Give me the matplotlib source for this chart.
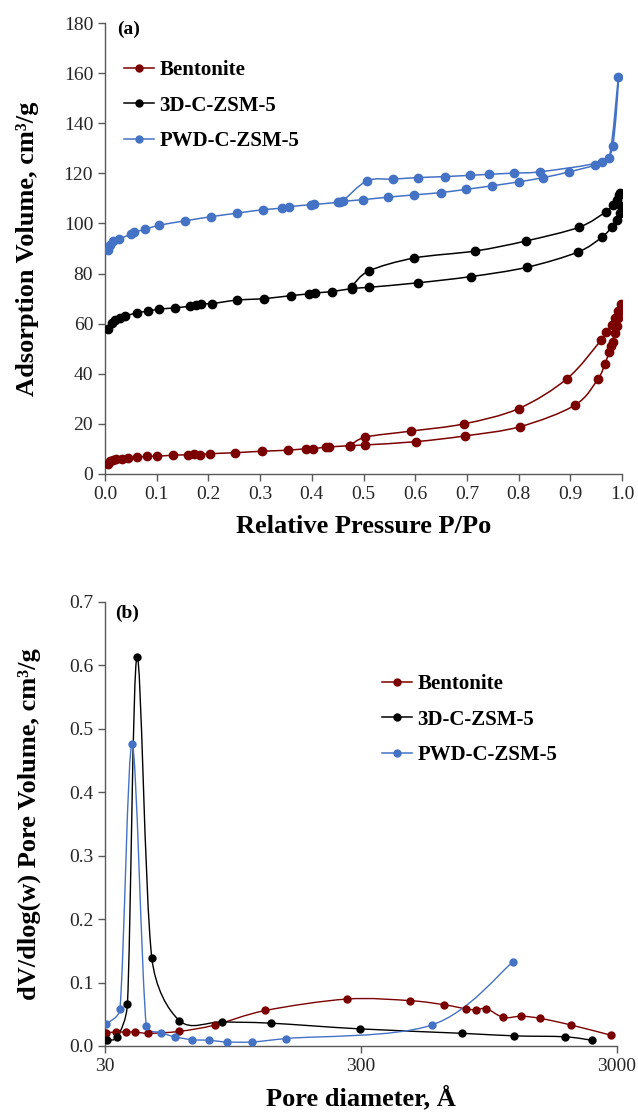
import numpy as np
import matplotlib
matplotlib.use("Agg")
import matplotlib.pyplot as plt
from matplotlib.path import Path
from matplotlib.patches import PathPatch
from matplotlib.lines import Line2D

plt.rcParams['font.family'] = ['Liberation Serif', 'DejaVu Serif']

# ---------------- data: panel (a) isotherms ----------------
series_names = ["Bentonite", "3D-C-ZSM-5", "PWD-C-ZSM-5"]
colors = ["#7B0000", "#000000", "#4472C4"]

bent_p = [0.005, 0.010, 0.015, 0.022, 0.033, 0.044, 0.062, 0.082, 0.101, 0.131, 0.161, 0.173,
          0.183, 0.203, 0.252, 0.304, 0.354, 0.389, 0.403, 0.428, 0.433, 0.473, 0.503, 0.601,
          0.696, 0.803, 0.909, 0.954, 0.967, 0.975, 0.979, 0.982, 0.986, 0.990, 0.993, 0.996,
          0.999, 0.993, 0.986, 0.980, 0.970, 0.959, 0.894, 0.800, 0.694, 0.591, 0.503, 0.473]
bent_v = [4.0, 5.1, 5.6, 6.0, 6.0, 6.5, 6.7, 7.1, 7.1, 7.5, 7.7, 8.0,
          7.7, 8.1, 8.5, 9.1, 9.5, 10.1, 10.1, 10.8, 10.8, 11.3, 11.6, 12.9,
          15.2, 18.9, 27.5, 38.1, 44.0, 48.5, 50.9, 52.5, 56.3, 59.2, 62.3, 64.9,
          68.0, 64.9, 62.3, 59.6, 56.5, 53.3, 38.1, 26.1, 20.0, 17.1, 14.7, 11.3]

zsm3d_p = [0.0065, 0.013, 0.020, 0.029, 0.039, 0.061, 0.083, 0.105, 0.135, 0.165, 0.176, 0.186,
           0.206, 0.255, 0.308, 0.360, 0.394, 0.407, 0.439, 0.477, 0.510, 0.605, 0.708, 0.816,
           0.915, 0.961, 0.981, 0.991, 0.996, 0.999, 0.997, 0.995, 0.991, 0.983, 0.969, 0.917,
           0.814, 0.716, 0.598, 0.510, 0.477]
zsm3d_v = [58.0, 60.3, 61.3, 62.4, 63.0, 64.3, 65.0, 65.8, 66.3, 67.0, 67.5, 68.0,
           68.0, 69.4, 70.0, 71.2, 71.9, 72.3, 72.8, 74.0, 74.5, 76.3, 78.8, 82.5,
           88.6, 94.5, 98.7, 101.3, 104.3, 107.0, 112.3, 111.4, 109.3, 107.2, 104.7, 98.5,
           93.0, 89.0, 86.2, 81.0, 74.8]

pwd_p = [0.005, 0.010, 0.016, 0.028, 0.050, 0.056, 0.078, 0.105, 0.154, 0.205, 0.255, 0.306,
         0.343, 0.356, 0.399, 0.405, 0.450, 0.455, 0.499, 0.548, 0.598, 0.649, 0.698, 0.748,
         0.800, 0.848, 0.898, 0.948, 0.975, 0.993, 0.982, 0.961, 0.841, 0.792, 0.742, 0.706,
         0.657, 0.606, 0.558, 0.507, 0.460]
pwd_v = [89.3, 91.3, 92.9, 93.8, 95.8, 96.5, 97.7, 99.3, 101.0, 102.7, 104.1, 105.5,
         106.1, 106.7, 107.5, 107.6, 108.4, 108.7, 109.5, 110.5, 111.4, 112.3, 113.6, 115.0,
         116.6, 118.3, 120.6, 123.3, 126.0, 158.3, 130.9, 124.7, 120.6, 120.1, 119.6, 119.2,
         118.7, 118.3, 117.7, 117.0, 108.9]

# ---------------- data: panel (b) pore size distributions ----------------
bent_d = [30.4, 33.0, 36.1, 39.3, 44.3, 58.4, 80.5, 127, 264, 466, 634, 773, 846, 927,
          1080, 1268, 1507, 1990, 2840]
bent_dv = [0.021, 0.022, 0.022, 0.022, 0.020, 0.023, 0.033, 0.056, 0.074, 0.0715, 0.065,
           0.0585, 0.057, 0.059, 0.045, 0.047, 0.0435, 0.033, 0.017]

zsm3d_d = [30.6, 33.5, 36.7, 40.0, 45.7, 58.6, 86, 133, 297, 745, 1189, 1880, 2400]
zsm3d_dv = [0.009, 0.014, 0.066, 0.614, 0.139, 0.040, 0.038, 0.036, 0.027, 0.020, 0.016,
            0.0145, 0.009]

pwd_d = [30.4, 34.3, 38.3, 43.5, 49.7, 56.2, 65.6, 76.3, 89.8, 113, 153, 566, 1173]
pwd_dv = [0.035, 0.058, 0.476, 0.031, 0.021, 0.0144, 0.010, 0.009, 0.0064, 0.0064, 0.0118,
          0.033, 0.132]

xticks_a = [0.0, 0.1, 0.2, 0.3, 0.4, 0.5, 0.6, 0.7, 0.8, 0.9, 1.0]
yticks_a = [0, 20, 40, 60, 80, 100, 120, 140, 160, 180]
xticks_b = [30, 300, 3000]
yticks_b = [0.0, 0.1, 0.2, 0.3, 0.4, 0.5, 0.6, 0.7]


def smooth_path(ax, x, y, color="k", lw=1.0, t=1.0 / 6.0, k=0.45):
    """Excel-like smoothed line through the points (limited Catmull-Rom Bezier),
    built in display space and mapped back to data coordinates."""
    pts = np.column_stack([np.asarray(x, float), np.asarray(y, float)])
    fwd = ax.transData
    inv = ax.transData.inverted()
    P = fwd.transform(pts)
    n = len(P)
    verts = [P[0]]
    codes = [Path.MOVETO]
    for i in range(n - 1):
        p0 = P[i - 1] if i > 0 else P[i]
        p1 = P[i]
        p2 = P[i + 1]
        p3 = P[i + 2] if i + 2 < n else P[i + 1]
        seg = np.hypot(*(p2 - p1))
        t1 = (p2 - p0) * t
        t2 = (p3 - p1) * t
        for tv in (t1, t2):
            L = np.hypot(*tv)
            if L > k * seg and L > 0:
                tv *= k * seg / L
        verts += [p1 + t1, p2 - t2, p2]
        codes += [Path.CURVE4] * 3
    V = inv.transform(np.array(verts))
    patch = PathPatch(Path(V, codes), facecolor="none", edgecolor=color, lw=lw,
                      transform=ax.transData, zorder=2)
    ax.add_patch(patch)


spine_col = "#595959"
W, H = 638, 1114
fig = plt.figure(figsize=(W / 100, H / 100), dpi=100)

ax1 = fig.add_axes([105 / W, 1 - 474 / H, 517 / W, 451 / H])
ax2 = fig.add_axes([105 / W, 1 - 1046 / H, 512 / W, 444 / H])

# ---------------- panel (a) ----------------
ax1.set_xlim(0, 1.0)
ax1.set_ylim(0, 180)
for xs, vs, c in zip([bent_p, zsm3d_p, pwd_p], [bent_v, zsm3d_v, pwd_v], colors):
    smooth_path(ax1, xs, vs, color=c, lw=1.1)
    ax1.plot(xs, vs, ls="none", marker="o", ms=6.0, color=c, zorder=3)
ax1.set_xticks(xticks_a)
ax1.set_xticklabels([f"{v:.1f}" for v in xticks_a])
ax1.set_yticks(yticks_a)
ax1.set_xlabel("Relative Pressure P/Po", fontsize=19, fontweight="bold")
ax1.set_ylabel("Adsorption Volume, cm³/g", fontsize=19, fontweight="bold")
ax1.xaxis.set_label_coords(0.5, -0.092)
ax1.yaxis.set_label_coords(-0.127, 0.5)
ax1.text(0.023, 0.987, "(a)", transform=ax1.transAxes, fontsize=14, fontweight="bold",
         va="center", ha="left")

# ---------------- panel (b) ----------------
ax2.set_xscale("log")
ax2.set_xlim(30, 3000)
ax2.set_ylim(0, 0.7)
for xs, vs, c in zip([bent_d, zsm3d_d, pwd_d], [bent_dv, zsm3d_dv, pwd_dv], colors):
    smooth_path(ax2, xs, vs, color=c, lw=1.0)
    ax2.plot(xs, vs, ls="none", marker="o", ms=5.0, color=c, zorder=3)
ax2.set_xticks(xticks_b)
ax2.set_xticklabels([str(v) for v in xticks_b])
ax2.xaxis.set_minor_locator(matplotlib.ticker.NullLocator())
ax2.set_yticks(yticks_b)
ax2.set_yticklabels([f"{v:.1f}" for v in yticks_b])
ax2.set_xlabel("Pore diameter, Å", fontsize=19, fontweight="bold")
ax2.set_ylabel("dV/dlog(w) Pore Volume, cm³/g", fontsize=19, fontweight="bold")
ax2.xaxis.set_label_coords(0.5, -0.09)
ax2.yaxis.set_label_coords(-0.125, 0.5)
ax2.text(0.0195, 0.975, "(b)", transform=ax2.transAxes, fontsize=14, fontweight="bold",
         va="center", ha="left")

for ax in (ax1, ax2):
    for s in ("top", "right"):
        ax.spines[s].set_visible(False)
    for s in ("left", "bottom"):
        ax.spines[s].set_color(spine_col)
        ax.spines[s].set_linewidth(1.0)
    ax.tick_params(axis="both", which="major", direction="out", length=5, width=1.0,
                   color=spine_col, labelsize=14, labelcolor="#262626")

handles = [Line2D([0], [0], color=c, lw=1.1, marker="o", ms=5) for c in colors]
leg_kw = dict(frameon=False, prop={"weight": "bold", "size": 15},
              handlelength=1.45, handletextpad=0.25, labelspacing=0.75,
              borderpad=0, borderaxespad=0, loc="upper left")
ax1.legend(handles, series_names, bbox_to_anchor=(0.037, 0.918), **leg_kw)
ax2.legend(handles, series_names, bbox_to_anchor=(0.541, 0.838), **leg_kw)

fig.savefig("out.png", dpi=100)
